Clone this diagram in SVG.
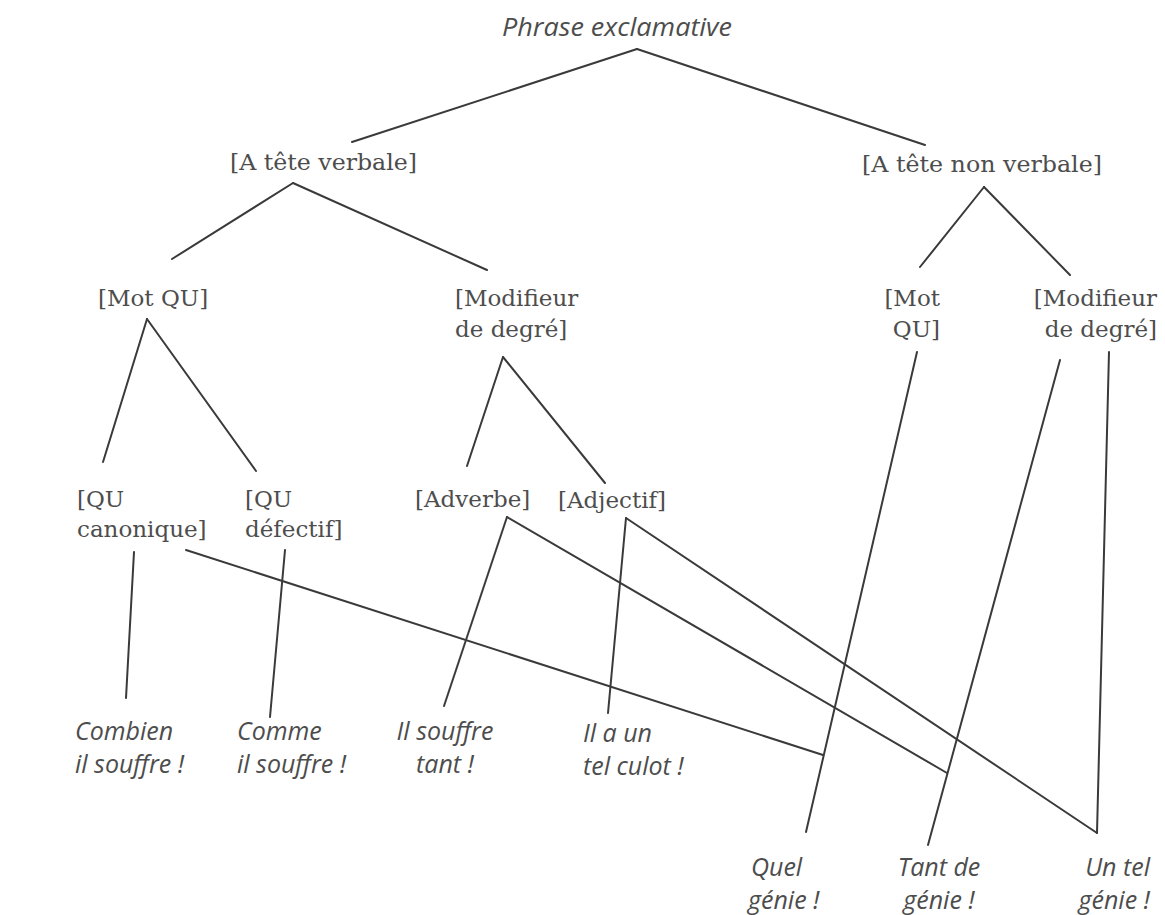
<svg xmlns="http://www.w3.org/2000/svg" width="1165" height="915" viewBox="0 0 1165 915">
<style>
.n{font-family:"DejaVu Serif","Liberation Serif",serif;font-size:23px;fill:#4d4d4d}
.top{font-family:"DejaVu Serif","Liberation Serif",serif;font-size:22px;fill:#4d4d4d}
.ex{font-family:"Open Sans","Noto Sans",sans-serif;font-style:italic;font-size:25px;fill:#4d4d4d}
.r{text-anchor:end}
.m{text-anchor:middle}
.c line{stroke:#3a3a3a;stroke-width:2;stroke-linecap:round}
</style>
<rect width="1165" height="915" fill="#fff"/>
<g id="connectors" class="c">
<line x1="637" y1="49" x2="352" y2="142"/>
<line x1="637" y1="49" x2="925" y2="145"/>
<line x1="293" y1="183" x2="172" y2="259"/>
<line x1="293" y1="183" x2="487" y2="270"/>
<line x1="984" y1="187" x2="920" y2="267"/>
<line x1="984" y1="187" x2="1070" y2="275"/>
<line x1="147" y1="319" x2="103" y2="462"/>
<line x1="147" y1="319" x2="256" y2="471"/>
<line x1="503" y1="357" x2="467" y2="466"/>
<line x1="503" y1="357" x2="605" y2="483"/>
<line x1="134" y1="552" x2="126" y2="698"/>
<line x1="285" y1="550" x2="270" y2="717"/>
<line x1="186" y1="550" x2="823" y2="755"/>
<line x1="507" y1="517" x2="444" y2="706"/>
<line x1="507" y1="517" x2="947" y2="773"/>
<line x1="626" y1="518" x2="608" y2="713"/>
<line x1="626" y1="518" x2="1097" y2="833"/>
<line x1="917" y1="352" x2="806" y2="832"/>
<line x1="1060" y1="360" x2="928" y2="845"/>
<line x1="1109" y1="352" x2="1097" y2="833"/>
</g>
<g id="root"><text class="ex" x="502" y="36" textLength="230" lengthAdjust="spacingAndGlyphs">Phrase exclamative</text></g>
<g id="tete-verbale"><text class="top" x="230" y="170" textLength="187" lengthAdjust="spacingAndGlyphs">[A tête verbale]</text></g>
<g id="tete-non-verbale"><text class="top" x="862" y="172" textLength="240" lengthAdjust="spacingAndGlyphs">[A tête non verbale]</text></g>
<g id="mot-qu-v"><text class="n" x="98" y="306">[Mot QU]</text></g>
<g id="modif-v"><text class="n" x="455" y="306">[Modifieur</text><text class="n" x="455" y="337">de degré]</text></g>
<g id="mot-qu-nv"><text class="n r" x="940" y="306">[Mot</text><text class="n r" x="940" y="337">QU]</text></g>
<g id="modif-nv"><text class="n r" x="1157" y="306">[Modifieur</text><text class="n r" x="1157" y="337">de degré]</text></g>
<g id="qu-canonique"><text class="n" x="77" y="507">[QU</text><text class="n" x="77" y="537">canonique]</text></g>
<g id="qu-defectif"><text class="n" x="245" y="507">[QU</text><text class="n" x="245" y="537">défectif]</text></g>
<g id="adverbe"><text class="n" x="415" y="507">[Adverbe]</text></g>
<g id="adjectif"><text class="n" x="558" y="508">[Adjectif]</text></g>
<g id="ex-combien"><text class="ex" x="75" y="740">Combien</text><text class="ex" x="75" y="773">il souffre !</text></g>
<g id="ex-comme"><text class="ex" x="237" y="740">Comme</text><text class="ex" x="237" y="773">il souffre !</text></g>
<g id="ex-tant"><text class="ex m" x="445" y="740">Il souffre</text><text class="ex m" x="445" y="773">tant !</text></g>
<g id="ex-culot"><text class="ex" x="583" y="742">Il a un</text><text class="ex" x="583" y="775">tel culot !</text></g>
<g id="ex-quel"><text class="ex" x="751" y="876">Quel</text><text class="ex" x="748" y="909">génie !</text></g>
<g id="ex-tantde"><text class="ex m" x="939" y="876">Tant de</text><text class="ex m" x="939" y="909">génie !</text></g>
<g id="ex-untel"><text class="ex r" x="1150" y="876">Un tel</text><text class="ex r" x="1150" y="909">génie !</text></g>
</svg>
